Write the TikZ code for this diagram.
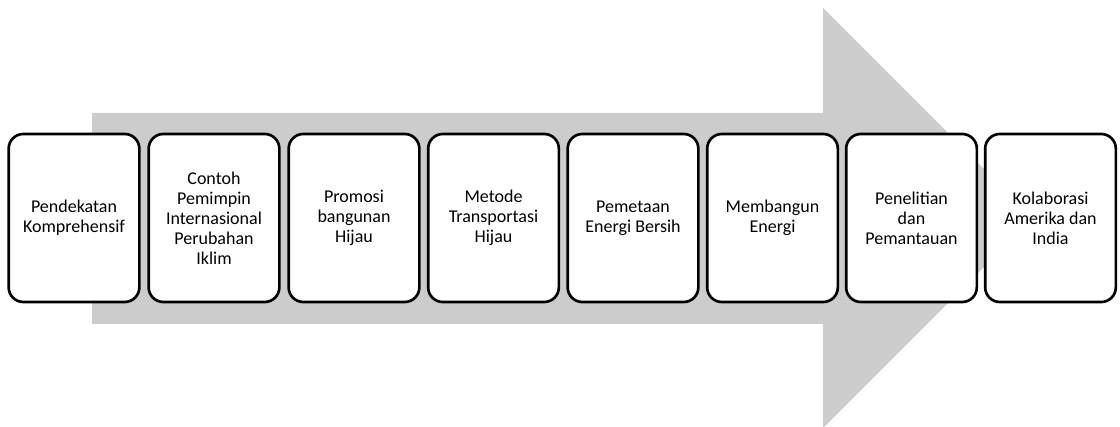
\documentclass[tikz,border=0pt]{standalone}
\usepackage{fontspec}
\setmainfont{Carlito}
\definecolor{panahabu}{RGB}{204,204,204}
\begin{document}
\begin{tikzpicture}[x=0.75pt,y=-0.75pt,
	kotak/.style={draw,rectangle,rounded corners=11pt,line width=2pt,fill=white,
		minimum width=98pt,minimum height=126pt,align=center,
		font=\fontsize{13.5}{15}\selectfont}]

	\useasboundingbox (0,0) rectangle (1120,427);

	% panah besar di belakang
	\fill[panahabu] (92,113) -- (823,113) -- (823,8) -- (1033,218) -- (823,428) -- (823,324) -- (92,324) -- cycle;

	% tahapan
	\node[kotak] (pendekatan) at (74,218) {Pendekatan\\Komprehensif};
	\node[kotak] (contoh) at (214,218) {Contoh\\Pemimpin\\Internasional\\Perubahan\\Iklim};
	\node[kotak] (promosi) at (354,218) {Promosi\\bangunan\\Hijau};
	\node[kotak] (metode) at (493.5,218) {Metode\\Transportasi\\Hijau};
	\node[kotak] (pemetaan) at (633,218) {Pemetaan\\Energi Bersih};
	\node[kotak] (membangun) at (772.5,218) {Membangun\\Energi};
	\node[kotak] (penelitian) at (911.5,218) {Penelitian\\dan\\Pemantauan};
	\node[kotak] (kolaborasi) at (1050.5,218) {Kolaborasi\\Amerika dan\\India};

\end{tikzpicture}
\end{document}
